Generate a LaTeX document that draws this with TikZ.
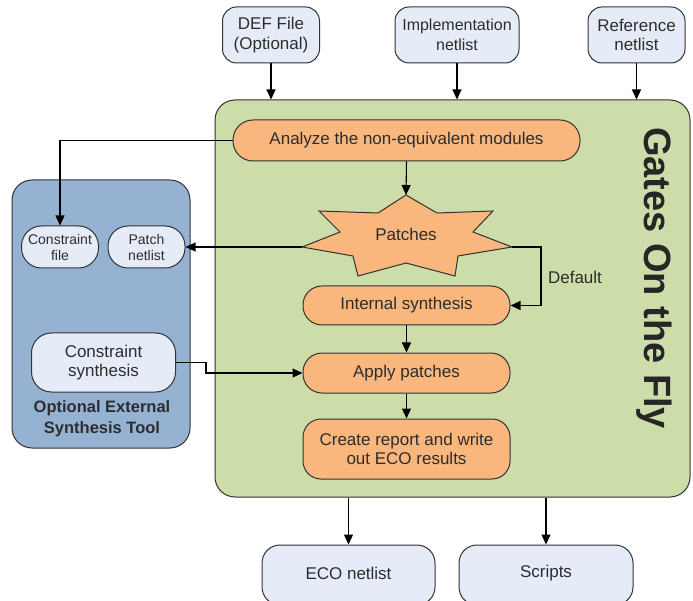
\documentclass[tikz,border=0pt]{standalone}
\usepackage{fontspec}
\setmainfont{Liberation Sans}
\usetikzlibrary{arrows.meta,calc}
\definecolor{gofgreen}{RGB}{204,221,170}
\definecolor{extblue}{RGB}{149,178,210}
\definecolor{procorange}{RGB}{249,182,125}
\definecolor{iobox}{RGB}{230,236,247}
\definecolor{txt}{RGB}{45,45,45}
\definecolor{edge}{RGB}{50,50,50}
\begin{document}
\begin{tikzpicture}[x=1pt,y=-1pt,
  every node/.style={text=txt,font=\fontsize{17}{19.5}\selectfont,align=center,inner sep=0pt},
  iobox/.style={draw=edge,line width=1pt,fill=iobox,rounded corners=14pt},
  smallio/.style={draw=edge,line width=1pt,fill=iobox,rounded corners=20pt,font=\fontsize{14}{16}\selectfont},
  proc/.style={draw=edge,line width=1pt,fill=procorange,minimum width=207pt},
  container/.style={draw=edge,line width=1pt,rounded corners=20pt},
  conn/.style={draw=black,line width=1.1pt,-{Triangle[length=10pt,width=9pt]}},
  plainline/.style={draw=black,line width=1.1pt}
]
\useasboundingbox (0,0) rectangle (693,601);

% containers
\node[container,fill=gofgreen,minimum width=475pt,minimum height=397pt] (gof) at (452.5,298.5) {};
\node[container,fill=extblue,minimum width=178pt,minimum height=268pt] (ext) at (101,314) {};

% inputs
\node[iobox,minimum width=97pt,minimum height=56pt] (def) at (271,35) {DEF File\\(Optional)};
\node[iobox,minimum width=124pt,minimum height=56pt,font=\fontsize{16}{19.5}\selectfont] (impl) at (457,35) {Implementation\\netlist};
\node[iobox,minimum width=97pt,minimum height=56pt] (ref) at (636.5,35) {Reference\\netlist};

% outputs
\node[iobox,rounded corners=18pt,minimum width=173pt,minimum height=60pt] (eco) at (348.5,575) {};
\node[text=txt] (ecot) at (348.5,573) {ECO netlist};
\node[iobox,rounded corners=18pt,minimum width=174pt,minimum height=60pt] (scripts) at (546,575) {};
\node[text=txt] (scriptst) at (546,573) {Scripts};

% process
\node[proc,minimum width=347pt,minimum height=41pt,rounded corners=20pt] (analyze) at (406.5,140.5) {Analyze the non-equivalent modules};
\node[proc,minimum height=39pt,rounded corners=19pt] (internal) at (406.5,305.5) {Internal synthesis};
\node[proc,minimum height=40pt,rounded corners=19pt] (apply) at (406.5,373) {Apply patches};
\node[proc,minimum height=60pt,rounded corners=18pt] (create) at (406.5,449) {Create report and write\\out ECO results};

% star
\coordinate (starT) at (406,195);
\coordinate (starR) at (512,247);
\coordinate (starL) at (302,247);
\draw[edge,line width=1pt,fill=procorange]
  (starT) -- (437,213) -- (493,211) -- (473,232) -- (starR) -- (458,256) -- (455,276)
  -- (406,263) -- (358,276) -- (353,256) -- (starL) -- (340,232) -- (319,211) -- (378,213) -- cycle;
\node (patches) at (406,234) {Patches};

% external tool contents
\node[smallio,minimum width=77pt,minimum height=42pt] (cfile) at (60,247) {Constraint\\file};
\node[smallio,minimum width=77pt,minimum height=42pt] (pnet) at (146.5,247) {Patch\\netlist};
\node[iobox,rounded corners=20pt,minimum width=144pt,minimum height=59pt] (csyn) at (103.5,362.5) {Constraint\\synthesis};
\node[font=\bfseries\fontsize{16.5}{21}\selectfont] (extlabel) at (102,419) {Optional External\\Synthesis Tool};

% title
\node[rotate=-90,font=\fontsize{38}{40}\selectfont\bfseries,text=black!85] (title) at (654,278) {Gates On the Fly};
\node (deflabel) at (575,277) {Default};

% connectors
\draw[conn] (def.south) -- (def.south |- gof.north);
\draw[conn] (impl.south) -- (impl.south |- gof.north);
\draw[conn] (ref.south) -- (ref.south |- gof.north);
\draw[conn] (analyze.south) -- (starT);
\draw[conn] (analyze.west) -| (cfile.north);
\draw[conn] (starL) -- (pnet.east);
\draw[conn] (starR) -- ++(29,0) |- (internal.east);
\draw[conn] (internal.south) -- (apply.north);
\draw[conn] (apply.south) -- (create.north);
\draw[conn] (csyn.east) -- ++(30,0) |- (apply.west);
\draw[conn] (eco.north |- gof.south) -- (eco.north);
\draw[conn] (scripts.north |- gof.south) -- (scripts.north);
\end{tikzpicture}
\end{document}
